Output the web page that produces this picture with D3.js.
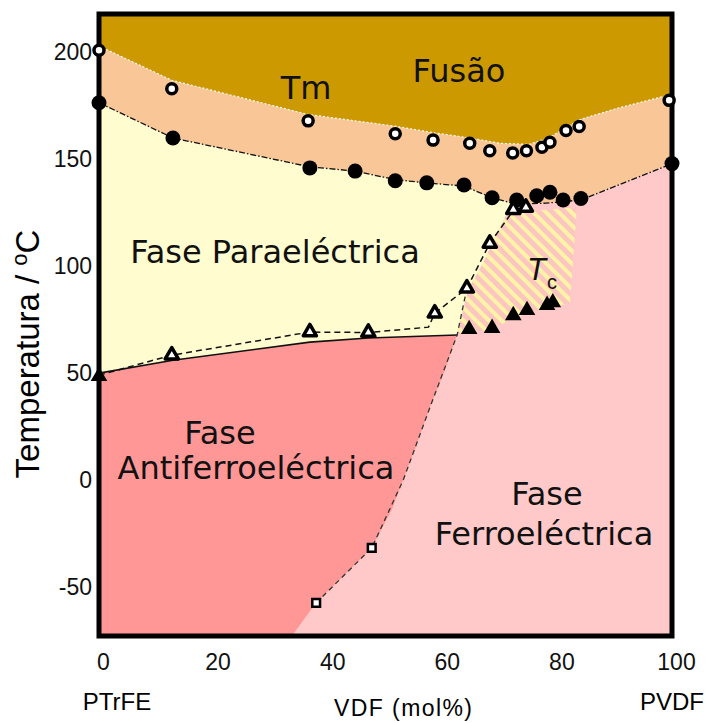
<!DOCTYPE html>
<html>
<head>
<meta charset="utf-8">
<script src="https://cdn.jsdelivr.net/npm/d3@7"></script>
<style>
  body { margin: 0; background: #fff; }
  svg { display: block; }
  .tick text { font-family: "Liberation Sans", Arial, sans-serif; fill: #111; }
  .region { font-family: "DejaVu Sans", Verdana, sans-serif; font-size: 32px; fill: #111; }
</style>
</head>
<body>
<svg id="chart" width="707" height="723"></svg>
<script>
// axis ticks
const xTicks = [0, 20, 40, 60, 80, 100];
const yTicks = [-50, 0, 50, 100, 150, 200];

// [VDF mol%, T °C]
const tmEdge = [[0,203],[12.7,187],[36.5,171],[51.7,165.5],[58.3,162.5],[64.7,160],[70,157.5],[75,157],[78.5,160],[83.8,168.5],[90,173.5],[100,180.5]];
const paraTop = [[0,176.5],[12.9,160],[36.8,146.5],[44.7,144.5],[51.7,140.5],[57.2,139],[63.7,137.5],[68.6,132],[72.9,129],[78,129.5],[84.1,131],[100,148]];
const antiTop = [[0,50],[12.9,56],[36.8,64.5],[47,66.4],[62.5,67.8]];
const antiFerroEdge = [[33.7,-73],[37.9,-57.5],[42.9,-44.4],[47.6,-31.8],[51.1,-14],[53.1,0],[55.5,16.8],[57.9,35],[60.4,51.4],[62.5,67.8]];
const hatchLeft = [[62.5,67.8],[64.4,88.8],[67,101.4],[71.2,124.8]];
const hatchRest = [[83.4,127.6],[82.8,105],[82.2,82.7],[78.2,80.5],[74.7,78],[72.3,75.5],[68.6,70.5],[64.4,69]];
const triLine = [[0,49],[12.7,58.4],[36.8,69.2],[47,69],[57.5,71.5],[58.6,78],[64.2,89.7],[68.2,110.7],[72.3,126]];
const sqLine = [[37.9,-57.5],[47.6,-31.8],[53.1,0],[57.9,35],[62.5,67.8],[64.2,89.7]];

const openCircles = [[0,201],[12.7,183],[36.5,168],[51.7,162],[58.3,159],[64.7,157.5],[68.2,154],[72.2,153],[74.6,154],[77.3,155.7],[78.7,158],[81.5,163.5],[83.8,165.4],[99.5,177.6]];
const filledCircles = [[0,176.5],[12.9,160],[36.8,146],[44.7,144.5],[51.7,140],[57.2,139],[63.7,138],[68.6,132],[72.9,131],[76.4,133],[78.7,134.6],[81,131],[84.1,131.7],[100,148]];
const filledTriangles = [[0,48.5],[64.6,70.5],[68.6,71],[72.3,77],[74.7,79.4],[78.2,81.8],[79.2,83]];
const openTriangles = [[12.7,58.4],[36.8,69.2],[47,69],[58.6,78],[64.2,89.7],[68.2,110.7],[72.3,126.5],[74.5,127.5]];
const squares = [[37.9,-57.5],[47.6,-31.8]];

const svg = d3.select('#chart');
const x = d3.scaleLinear().domain([0, 100]).range([99, 672]);
const y = d3.scaleLinear().domain([-73, 218]).range([636, 14]);
const [yMin, yMax] = y.domain();

const defs = svg.append('defs');
defs.append('clipPath').attr('id', 'plot')
  .append('rect').attr('x', x(0)).attr('y', y(yMax)).attr('width', x(100) - x(0)).attr('height', y(yMin) - y(yMax));
const pat = defs.append('pattern').attr('id', 'hatch')
  .attr('patternUnits', 'userSpaceOnUse').attr('width', 9).attr('height', 9)
  .attr('patternTransform', 'rotate(-45)');
pat.append('rect').attr('width', 9).attr('height', 9).attr('fill', '#fcc6c0');
pat.append('rect').attr('width', 4).attr('height', 9).attr('fill', '#fff3a8');

const poly = d3.line().x(d => x(d[0])).y(d => y(d[1]));
const g = svg.append('g').attr('clip-path', 'url(#plot)');

// regions, back to front
g.append('rect').attr('x', x(0)).attr('y', y(yMax)).attr('width', x(100) - x(0)).attr('height', y(yMin) - y(yMax)).attr('fill', '#cc9900');
g.append('path').attr('d', poly(tmEdge.concat([[100, yMin], [0, yMin]])) + 'Z').attr('fill', '#f9c698');
g.append('path').attr('d', poly(paraTop.concat([[100, yMin], [0, yMin]])) + 'Z').attr('fill', '#fffcd0');
g.append('path')
  .attr('d', poly(antiFerroEdge.concat(hatchLeft.slice(1), paraTop.slice(-4), [[100, yMin]])) + 'Z')
  .attr('fill', '#ffc9c9');
g.append('path').attr('d', poly(hatchLeft.concat(hatchRest)) + 'Z').attr('fill', 'url(#hatch)');
g.append('path')
  .attr('d', poly([[0, yMin]].concat(antiTop, antiFerroEdge.slice().reverse())) + 'Z')
  .attr('fill', '#ff9797');

// boundary lines
g.append('path').attr('d', poly(tmEdge)).attr('fill', 'none')
  .attr('stroke', '#fff').attr('stroke-width', 1.2).attr('stroke-dasharray', '2,2');
g.append('path').attr('d', poly(paraTop)).attr('fill', 'none')
  .attr('stroke', '#111').attr('stroke-width', 1.3).attr('stroke-dasharray', '6,2,1.5,2');
g.append('path').attr('d', poly(antiTop)).attr('fill', 'none')
  .attr('stroke', '#111').attr('stroke-width', 1.6);
g.append('path').attr('d', poly(triLine)).attr('fill', 'none')
  .attr('stroke', '#111').attr('stroke-width', 1.5).attr('stroke-dasharray', '6,4');
g.append('path').attr('d', poly(sqLine)).attr('fill', 'none')
  .attr('stroke', '#333').attr('stroke-width', 1.3).attr('stroke-dasharray', '5,4');

// frame
svg.append('rect').attr('x', x(0)).attr('y', y(yMax)).attr('width', x(100) - x(0)).attr('height', y(yMin) - y(yMax))
  .attr('fill', 'none').attr('stroke', '#000').attr('stroke-width', 5);

// markers
const marks = svg.append('g');
marks.selectAll('.fc').data(filledCircles).join('circle')
  .attr('cx', d => x(d[0])).attr('cy', d => y(d[1])).attr('r', 7.5).attr('fill', '#000');
marks.selectAll('.oc').data(openCircles).join('circle')
  .attr('cx', d => x(d[0])).attr('cy', d => y(d[1])).attr('r', 5)
  .attr('fill', '#fff').attr('stroke', '#000').attr('stroke-width', 3.5);
const tri = d3.symbol(d3.symbolTriangle);
marks.selectAll('.ft').data(filledTriangles).join('path')
  .attr('transform', d => `translate(${x(d[0])},${y(d[1])})`)
  .attr('d', tri.size(120)()).attr('fill', '#000');
marks.selectAll('.ot').data(openTriangles).join('path')
  .attr('transform', d => `translate(${x(d[0])},${y(d[1])})`)
  .attr('d', tri.size(75)()).attr('fill', '#fff').attr('stroke', '#000').attr('stroke-width', 3.5).attr('stroke-linejoin', 'round');
marks.selectAll('.sq').data(squares).join('path')
  .attr('transform', d => `translate(${x(d[0])},${y(d[1])})`)
  .attr('d', d3.symbol(d3.symbolSquare, 60)()).attr('fill', '#fff').attr('stroke', '#000').attr('stroke-width', 2.5);

// axes
const xAxis = svg.append('g').attr('transform', `translate(0,${y(yMin)})`)
  .call(d3.axisBottom(x).tickValues(xTicks).tickSize(0).tickPadding(18).tickFormat(d => String(d)));
xAxis.select('.domain').remove();
xAxis.selectAll('text').attr('font-size', 23).attr('dx', 4);

const yAxis = svg.append('g').attr('transform', `translate(${x(0)},0)`)
  .call(d3.axisLeft(y).tickValues(yTicks).tickSize(0).tickPadding(7).tickFormat(d => String(d)));
yAxis.select('.domain').remove();
yAxis.selectAll('text').attr('font-size', 23);

const axisFont = '"Liberation Sans", Arial, sans-serif';
svg.append('text').attr('x', x(0) + 18).attr('y', 710).attr('text-anchor', 'middle')
  .attr('font-family', axisFont).attr('font-size', 24).text('PTrFE');
svg.append('text').attr('x', x(100)).attr('y', 710).attr('text-anchor', 'middle')
  .attr('font-family', axisFont).attr('font-size', 24).text('PVDF');
svg.append('text').attr('x', 403).attr('y', 716).attr('text-anchor', 'middle')
  .attr('font-family', axisFont).attr('font-size', 23).attr('textLength', 138).text('VDF (mol%)');

const yTitle = svg.append('text').attr('transform', 'translate(39,354) rotate(-90)')
  .attr('text-anchor', 'middle').attr('font-family', axisFont).attr('font-size', 33);
yTitle.append('tspan').text('Temperatura / ');
yTitle.append('tspan').attr('font-size', 22).attr('dy', -12).text('o');
yTitle.append('tspan').attr('dy', 12).text('C');

// region labels
const labels = [
  ['Fusão', 459, 82, 32],
  ['Tm', 306, 99, 26],
  ['Fase Paraeléctrica', 275, 263, 33],
  ['Fase', 220, 444, 32],
  ['Antiferroeléctrica', 256, 479, 32],
  ['Fase', 547, 505, 32],
  ['Ferroeléctrica', 544, 545, 32]
];
svg.selectAll('.region').data(labels).join('text')
  .attr('class', 'region').attr('x', d => d[1]).attr('y', d => d[2])
  .attr('text-anchor', 'middle').attr('font-size', d => d[3]).text(d => d[0]);

const tc = svg.append('text').attr('x', 527).attr('y', 280)
  .attr('font-family', axisFont).attr('fill', '#111');
tc.append('tspan').attr('font-size', 31).attr('font-style', 'italic').text('T');
tc.append('tspan').attr('font-size', 20).attr('dx', 1).attr('dy', 9).text('c');
</script>
</body>
</html>
